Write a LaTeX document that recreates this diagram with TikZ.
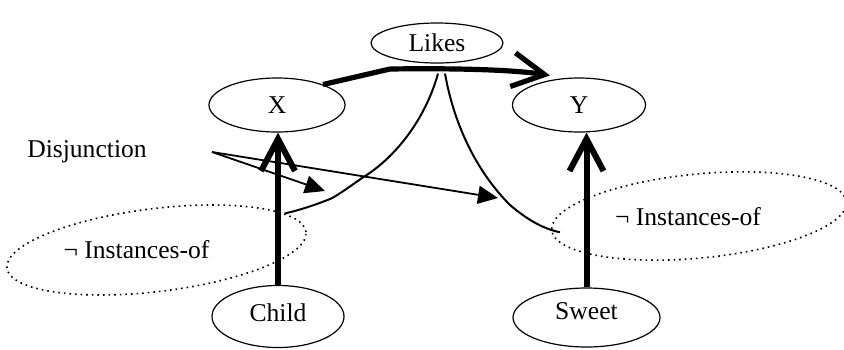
\documentclass[tikz,border=0pt]{standalone}
\usepackage{fontspec}
\setmainfont{Liberation Serif}
\usetikzlibrary{arrows.meta,shapes.geometric}

\begin{document}
\begin{tikzpicture}[x=0.5pt,y=-0.5pt,
    concept/.style={draw,ellipse,line width=0.6pt,inner sep=0pt,
                    font=\fontsize{12.8}{15}\selectfont},
    negset/.style={draw,ellipse,dotted,line width=0.8pt,inner sep=0pt},
    labeltext/.style={inner sep=1pt,font=\fontsize{12.8}{15}\selectfont},
    heavy/.style={line width=3pt,-{Straight Barb[length=16pt,width=17pt]}},
    pointer/.style={line width=0.9pt,-{Triangle[length=10pt,width=9pt]}},
    wavy/.style={line width=1pt}]
  \useasboundingbox (0,0) rectangle (844,349);

  % concepts
  \node[concept,minimum width=66pt,minimum height=20pt] (likes) at (437,43) {Likes};
  \node[concept,minimum width=68pt,minimum height=27pt] (x) at (277,105) {X};
  \node[concept,minimum width=66.5pt,minimum height=27pt] (y) at (579,105) {Y};
  \node[concept,minimum width=66pt,minimum height=31pt,text depth=4pt] (child) at (278,316.5) {Child};
  \node[concept,minimum width=73.5pt,minimum height=29.5pt,text depth=6pt] (sweet) at (586.5,317.5) {Sweet};

  % negated sets
  \node[negset,rotate=6.9,minimum width=150.6pt,minimum height=41.5pt] (negchild) at (156.5,250) {};
  \node[labeltext] (negchildtext) at (136.5,250) {¬ Instances-of};
  \node[negset,rotate=5.5,minimum width=148pt,minimum height=42pt] (negsweet) at (699,216) {};
  \node[labeltext] (negsweettext) at (688,217) {¬ Instances-of};

  % disjunction
  \node[labeltext] (disj) at (87,152) {Disjunction};
  \coordinate (fork) at (212,152);
  \coordinate (tipl) at (325,191);
  \coordinate (tipr) at (498,198);
  \draw[pointer] (fork) -- (tipl);
  \draw[pointer] (fork) -- (tipr);

  % relations
  \draw[heavy] (child.north) -- (child.north |- x.south);
  \draw[heavy] (sweet.north) -- (sweet.north |- y.south);
  \draw[heavy,line width=2.6pt] (x.24) -- (390,69)
    .. controls (460,68) and (515,70) .. ([xshift=-14.5pt,yshift=1pt]y.north);

  \draw[wavy] ([xshift=0.5pt,yshift=-5pt]likes.south)
    .. controls (425,120) and (395,158) .. (362,178)
    .. controls (345,190) and (335,197) .. (330,199)
    .. controls (315,205) and (300,210) .. (negchild.9);
  \draw[wavy] ([xshift=4pt,yshift=-5pt]likes.south)
    .. controls (455,130) and (480,175) .. (510,205)
    .. controls (530,222) and (545,229) .. ([xshift=4.5pt,yshift=-1pt]negsweet.west);
\end{tikzpicture}
\end{document}
